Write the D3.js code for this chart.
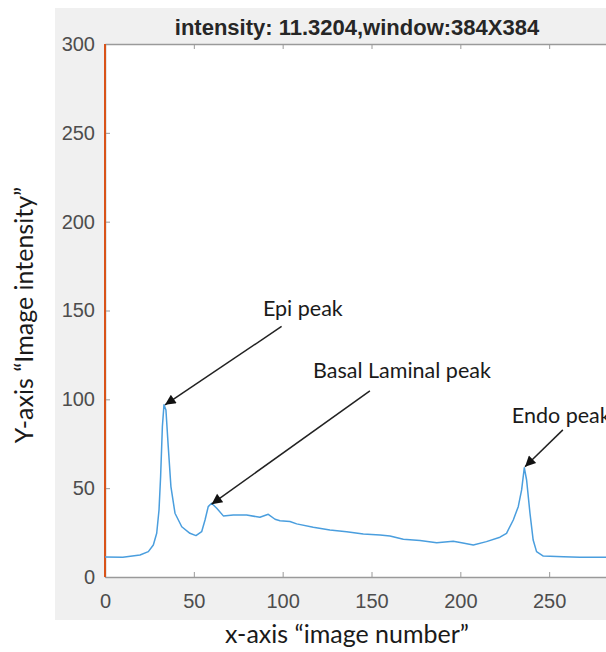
<!DOCTYPE html>
<html>
<head>
<meta charset="utf-8">
<script src="https://cdn.jsdelivr.net/npm/d3@7"></script>
<style>
  body { margin: 0; background: #fff; }
  svg { display: block; }
</style>
</head>
<body>
<div id="chart"></div>
<script>
// image number (x)
const imageNumber = [0, 10, 19.7, 24.4, 27.2, 29.1, 30.4, 31.3, 32.3, 33.2, 34.3, 35.6, 37.1, 39.4, 43.2,
  47.8, 51.2, 54.4, 56.3, 58.1, 60, 62.9, 66.6, 72.2, 79.7, 87.2, 91.9, 95.7, 98.5, 104.1, 107.9,
  117.2, 126.6, 136, 145.4, 154.8, 160.4, 167.9, 177.3, 186.7, 196, 200.7, 207.3, 214.7, 222.3,
  226, 229.8, 232.6, 234.5, 236, 237.3, 239.2, 241, 242.9, 246.7, 258, 267.3, 282, 290];
// image intensity (y)
const intensity = [11.2, 11.1, 12.4, 14.3, 18, 24.6, 37.7, 56.5, 84.7, 96.9, 94, 73.4, 50.9, 35.9, 28.3,
  24.6, 23.3, 25.5, 32.1, 39.6, 41.5, 38.7, 34.4, 34.9, 34.9, 33.6, 35.3, 32.5, 31.7, 31.2, 29.9,
  28, 26.5, 25.5, 24.2, 23.7, 23.1, 21.2, 20.5, 19.3, 20.1, 19.3, 18, 19.9, 22.4,
  24.6, 32.1, 39.6, 49, 61.5, 54.6, 35.9, 20.8, 14.3, 11.8, 11.4, 11.1, 11.1, 11];

// second series: vertical line at x = 0
const markerX = [0, 0];
const markerY = [0, 300];

const xTicks = [0, 50, 100, 150, 200, 250];
const yTicks = [0, 50, 100, 150, 200, 250, 300];

const titleText = 'intensity: 11.3204,window:384X384';
const xLabel = 'x-axis \u201cimage number\u201d';
const yLabel = 'Y-axis \u201cImage intensity\u201d';

// annotations: label, label anchor, arrow tail, arrow tip (all in data units)
const annoLabels = ['Epi peak', 'Basal Laminal peak', 'Endo peak'];
const annoTextX = [88.9, 117.1, 229];
const annoTextY = [147, 112.1, 86.8];
const annoTailX = [99.4, 149.1, 257.7];
const annoTailY = [141, 104.8, 82.8];
const annoTipX = [33.8, 60, 236.4];
const annoTipY = [96.9, 41, 62.1];

const width = 606, height = 652;
const margin = {top: 44, left: 105};
const plotSize = 533;

const svg = d3.select('#chart').append('svg')
  .attr('width', width)
  .attr('height', height);

// figure background
svg.append('rect')
  .attr('x', 55).attr('y', 8)
  .attr('width', width - 55).attr('height', 612)
  .attr('fill', '#f0f0f0');

const xScale = d3.scaleLinear().domain([0, 300]).range([margin.left, margin.left + plotSize]);
const yScale = d3.scaleLinear().domain([0, 300]).range([margin.top + plotSize, margin.top]);

// axes area
svg.append('rect')
  .attr('x', xScale(0)).attr('y', yScale(300))
  .attr('width', plotSize).attr('height', plotSize)
  .attr('fill', '#fff');

const axisColor = '#9a9a9a';
const tickFont = '"Liberation Sans", Arial, sans-serif';

function styleAxis(g) {
  g.select('.domain').attr('stroke', axisColor).attr('stroke-width', 1.5);
  g.selectAll('.tick line').attr('stroke', axisColor);
  g.selectAll('.tick text').attr('fill', '#4d4d4d')
    .style('font-family', tickFont).style('font-size', '20px');
}

svg.append('g')
  .attr('transform', `translate(0,${yScale(0)})`)
  .call(d3.axisBottom(xScale).tickValues(xTicks).tickSizeInner(-5).tickSizeOuter(0).tickPadding(17))
  .call(styleAxis);

svg.append('g')
  .attr('transform', `translate(0,${yScale(300)})`)
  .call(d3.axisTop(xScale).tickValues(xTicks).tickSizeInner(-5).tickSizeOuter(0).tickFormat(''))
  .call(styleAxis);

svg.append('g')
  .attr('transform', `translate(${xScale(0)},0)`)
  .call(d3.axisLeft(yScale).tickValues(yTicks).tickSizeInner(-5).tickSizeOuter(0).tickPadding(10))
  .call(styleAxis);

// traces
const trace = imageNumber.map((d, i) => [d, intensity[i]]);
const marker = markerX.map((d, i) => [d, markerY[i]]);
const line = d3.line().x(d => xScale(d[0])).y(d => yScale(d[1]));

svg.append('path')
  .datum(marker)
  .attr('d', line)
  .attr('fill', 'none')
  .attr('stroke', '#d95319')
  .attr('stroke-width', 2);

svg.append('path')
  .datum(trace)
  .attr('d', line)
  .attr('fill', 'none')
  .attr('stroke', '#4a9ede')
  .attr('stroke-width', 1.5)
  .attr('stroke-linejoin', 'round');

// title
svg.append('text')
  .attr('x', 357).attr('y', 35)
  .attr('text-anchor', 'middle')
  .style('font-family', tickFont)
  .style('font-weight', 'bold')
  .style('font-size', '22px')
  .attr('fill', '#262626')
  .text(titleText);

// axis labels
const labelFont = 'Lato, "Open Sans", sans-serif';
svg.append('text')
  .attr('x', 347).attr('y', 643)
  .attr('text-anchor', 'middle')
  .style('font-family', labelFont)
  .style('font-size', '25px')
  .attr('fill', '#1a1a1a')
  .text(xLabel);

svg.append('text')
  .attr('transform', 'translate(33,315) rotate(-90)')
  .attr('text-anchor', 'middle')
  .style('font-family', labelFont)
  .style('font-size', '25px')
  .attr('fill', '#1a1a1a')
  .text(yLabel);

// arrow head
svg.append('defs').append('marker')
  .attr('id', 'arrow')
  .attr('viewBox', '0 0 10 10')
  .attr('refX', 10).attr('refY', 5)
  .attr('markerWidth', 8).attr('markerHeight', 7)
  .attr('markerUnits', 'strokeWidth')
  .attr('orient', 'auto')
  .append('path')
  .attr('d', 'M0,0 L10,5 L0,10 Z')
  .attr('fill', '#111');

const annos = annoLabels.map((t, i) => ({
  t, tx: annoTextX[i], ty: annoTextY[i],
  x1: annoTailX[i], y1: annoTailY[i], x2: annoTipX[i], y2: annoTipY[i]
}));

svg.selectAll('.anno-line').data(annos).join('line')
  .attr('class', 'anno-line')
  .attr('x1', d => xScale(d.x1)).attr('y1', d => yScale(d.y1))
  .attr('x2', d => xScale(d.x2)).attr('y2', d => yScale(d.y2))
  .attr('stroke', '#222')
  .attr('stroke-width', 1.5)
  .attr('marker-end', 'url(#arrow)');

svg.selectAll('.anno-text').data(annos).join('text')
  .attr('class', 'anno-text')
  .attr('x', d => xScale(d.tx)).attr('y', d => yScale(d.ty))
  .style('font-family', labelFont)
  .style('font-size', '21.5px')
  .attr('fill', '#1a1a1a')
  .text(d => d.t);
</script>
</body>
</html>
